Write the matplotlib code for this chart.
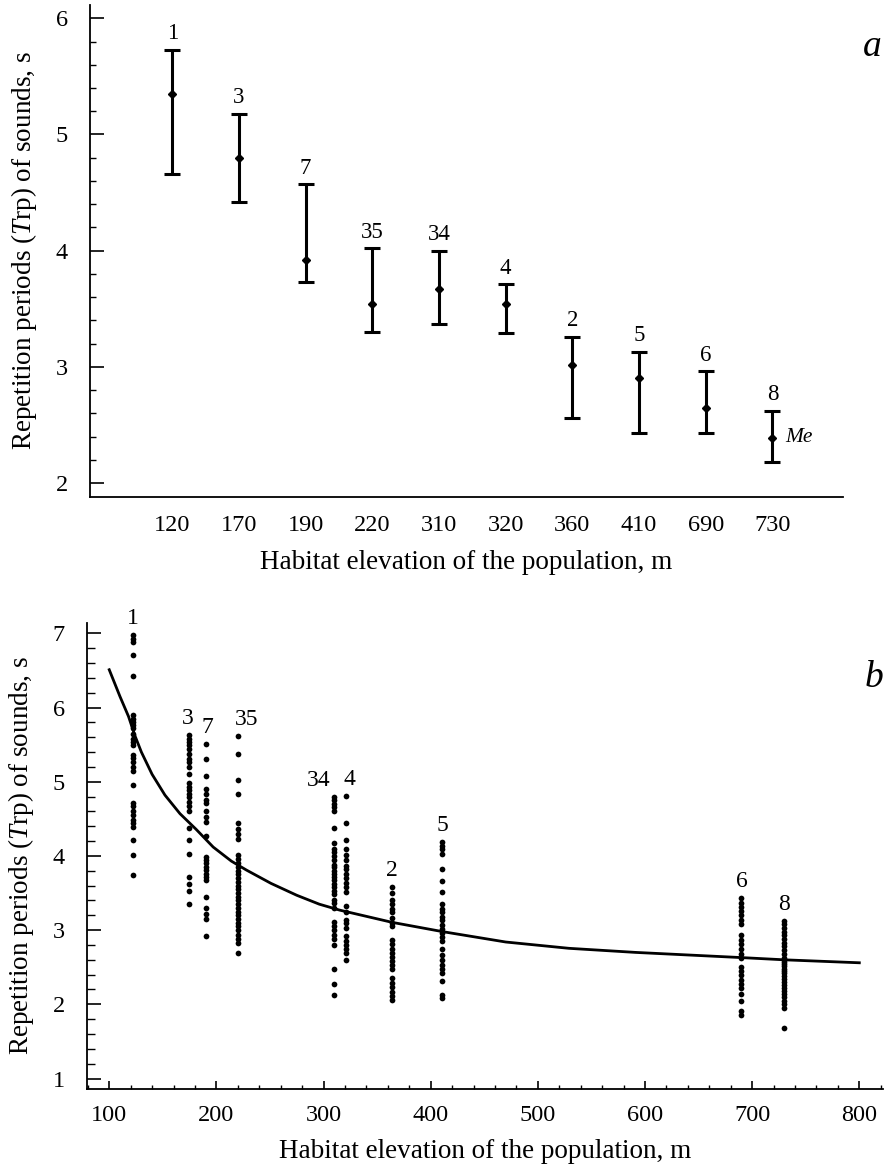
import matplotlib
matplotlib.use("Agg")
import matplotlib.pyplot as plt
from matplotlib.ticker import MultipleLocator

plt.rcParams['font.family'] = ['Liberation Serif', 'DejaVu Serif']
plt.rcParams['mathtext.fontset'] = 'custom'
plt.rcParams['mathtext.rm'] = 'Liberation Serif'
plt.rcParams['mathtext.it'] = 'Liberation Serif:italic'

# panel a: medians with ranges per population
elev_labels = ['120', '170', '190', '220', '310', '320', '360', '410', '690', '730']
pop_ids = ['1', '3', '7', '35', '34', '4', '2', '5', '6', '8']
med = [5.35, 4.80, 3.92, 3.54, 3.67, 3.54, 3.02, 2.90, 2.65, 2.39]
low = [4.66, 4.42, 3.73, 3.30, 3.37, 3.29, 2.56, 2.43, 2.43, 2.18]
high = [5.73, 5.18, 4.57, 4.02, 4.00, 3.71, 3.26, 3.13, 2.96, 2.62]

# panel b: individual values per population
pop_x = [122, 174, 190, 220, 310, 321, 364, 411, 690, 730]
trp_1 = [6.98, 6.93, 6.89, 6.71, 6.42, 5.90, 5.85, 5.81, 5.76, 5.72, 5.65, 5.58, 5.54, 5.49, 5.36,
         5.32, 5.27, 5.20, 5.15, 4.96, 4.72, 4.67, 4.61, 4.55, 4.49, 4.44, 4.39, 4.22, 4.01, 3.74]
trp_3 = [5.63, 5.58, 5.54, 5.49, 5.44, 5.38, 5.30, 5.26, 5.20, 5.11, 4.98, 4.93, 4.89, 4.84, 4.79,
         4.73, 4.67, 4.60, 4.37, 4.21, 4.03, 3.72, 3.62, 3.53, 3.35]
trp_7 = [5.51, 5.30, 5.08, 4.90, 4.84, 4.75, 4.71, 4.60, 4.53, 4.46, 4.27, 3.99, 3.94, 3.90, 3.85,
         3.81, 3.76, 3.72, 3.68, 3.45, 3.30, 3.22, 3.15, 2.92]
trp_35 = [5.62, 5.38, 5.03, 4.83, 4.45, 4.36, 4.30, 4.23, 4.01, 3.96, 3.90, 3.85, 3.80, 3.75, 3.70,
          3.65, 3.60, 3.55, 3.50, 3.45, 3.40, 3.35, 3.30, 3.25, 3.20, 3.15, 3.10, 3.05, 3.00, 2.93,
          2.88, 2.83, 2.69]
trp_34 = [4.79, 4.75, 4.70, 4.66, 4.60, 4.38, 4.18, 4.10, 4.05, 4.00, 3.94, 3.88, 3.85, 3.80, 3.76,
          3.72, 3.67, 3.62, 3.58, 3.53, 3.49, 3.40, 3.36, 3.30, 3.11, 3.05, 3.00, 2.93, 2.88, 2.80,
          2.48, 2.28, 2.12]
trp_4 = [4.81, 4.44, 4.21, 4.09, 4.01, 3.94, 3.87, 3.82, 3.76, 3.70, 3.64, 3.58, 3.52, 3.32, 3.24,
         3.14, 3.09, 3.03, 2.92, 2.85, 2.80, 2.74, 2.69, 2.60]
trp_2 = [3.58, 3.50, 3.40, 3.35, 3.29, 3.24, 3.16, 3.09, 3.05, 2.87, 2.81, 2.75, 2.69, 2.64, 2.59,
         2.53, 2.47, 2.35, 2.29, 2.24, 2.17, 2.11, 2.06]
trp_5 = [4.19, 4.14, 4.09, 4.03, 3.83, 3.66, 3.52, 3.35, 3.29, 3.24, 3.18, 3.13, 3.07, 3.02, 2.96,
         2.91, 2.85, 2.74, 2.67, 2.60, 2.53, 2.47, 2.42, 2.31, 2.13, 2.08]
trp_6 = [3.43, 3.37, 3.31, 3.26, 3.20, 3.14, 3.08, 2.94, 2.87, 2.81, 2.75, 2.68, 2.62, 2.50, 2.45,
         2.39, 2.33, 2.28, 2.22, 2.14, 2.04, 1.91, 1.85]
trp_8 = [3.12, 3.08, 3.03, 2.98, 2.93, 2.88, 2.83, 2.78, 2.73, 2.68, 2.63, 2.60, 2.57, 2.54, 2.51,
         2.48, 2.45, 2.42, 2.38, 2.34, 2.30, 2.26, 2.22, 2.18, 2.14, 2.10, 2.05, 2.00, 1.95, 1.68]
trp_all = [trp_1, trp_3, trp_7, trp_35, trp_34, trp_4, trp_2, trp_5, trp_6, trp_8]

# fitted curve
fit_x = [100, 110, 118, 124, 130, 140, 152, 166, 181, 197, 214, 228, 251, 275, 296, 315, 364, 411,
         470, 529, 591, 690, 730, 800]
fit_y = [6.51, 6.15, 5.88, 5.62, 5.40, 5.10, 4.82, 4.57, 4.36, 4.12, 3.93, 3.81, 3.63, 3.47, 3.35,
         3.27, 3.105, 2.98, 2.84, 2.755, 2.70, 2.63, 2.60, 2.56]

ylab = r'Repetition periods ($\mathit{T}$rp) of sounds, s'
xlab = 'Habitat elevation of the population, m'

fig = plt.figure(figsize=(8.86, 11.68), dpi=100)

# ---- panel a ----
ax = fig.add_axes([0.1016, 0.5745, 0.850, 0.4212])
pos = list(range(len(med)))
yerr = [[m - l for m, l in zip(med, low)], [h - m for m, h in zip(med, high)]]
ax.errorbar(pos, med, yerr=yerr, fmt='D', color='black', ms=4.5, elinewidth=2.2,
            capsize=6, capthick=2.2)
for p, h, lab in zip(pos, high, pop_ids):
    ax.text(p, h + 0.05, lab, ha='center', va='bottom', fontsize=16.5)
ax.text(pos[-1] + 0.19, med[-1], 'Me', style='italic', ha='left', va='center', fontsize=15.5)
ax.set_xlim(-1.234, 10.06)
ax.set_ylim(1.88, 6.114)
ax.set_xticks(pos)
ax.set_xticklabels(elev_labels)
ax.tick_params(axis='x', length=0, pad=13, labelsize=17.5)
ax.yaxis.set_major_locator(MultipleLocator(1))
ax.yaxis.set_minor_locator(MultipleLocator(0.2))
ax.tick_params(axis='y', which='major', direction='in', length=10, width=1.2, labelsize=17.5, pad=16)
ax.tick_params(axis='y', which='minor', direction='in', length=4.5, width=1.0)
for s in ['top', 'right']:
    ax.spines[s].set_visible(False)
for s in ['left', 'bottom']:
    ax.spines[s].set_linewidth(1.3)
ax.set_ylabel(ylab, fontsize=19.5, labelpad=12)
ax.set_xlabel(xlab, fontsize=19.5, labelpad=10)
fig.text(0.985, 0.96, 'a', style='italic', fontsize=27, ha='center', va='center')

# ---- panel b ----
bx = fig.add_axes([0.0985, 0.0674, 0.898, 0.3996])
for x, vals in zip(pop_x, trp_all):
    bx.scatter([x] * len(vals), vals, s=17, color='black', linewidths=0, zorder=3)
bx.plot(fit_x, fit_y, color='black', lw=2.0, zorder=2)
label_dx = {'3': -1, '7': 2, '35': 8, '34': -15, '4': 3}
for x, vals, lab in zip(pop_x, trp_all, pop_ids):
    bx.text(x + label_dx.get(lab, 0), max(vals) + 0.08, lab, ha='center', va='bottom', fontsize=17)
bx.set_xlim(79.5, 822)
bx.set_ylim(0.855, 7.146)
bx.xaxis.set_major_locator(MultipleLocator(100))
bx.xaxis.set_minor_locator(MultipleLocator(20))
bx.yaxis.set_major_locator(MultipleLocator(1))
bx.yaxis.set_minor_locator(MultipleLocator(0.2))
bx.tick_params(which='major', direction='in', length=10, width=1.2, labelsize=17.5)
bx.tick_params(axis='x', which='major', length=6, pad=11)
bx.tick_params(axis='y', which='major', pad=16)
bx.tick_params(axis='y', which='minor', direction='in', length=5.5, width=1.0)
bx.tick_params(axis='x', which='minor', direction='in', length=3, width=1.0)
for s in ['top', 'right']:
    bx.spines[s].set_visible(False)
for s in ['left', 'bottom']:
    bx.spines[s].set_linewidth(1.3)
bx.set_ylabel(ylab, fontsize=19.5, labelpad=12)
bx.set_xlabel(xlab, fontsize=19.5, labelpad=10)
fig.text(0.987, 0.42, 'b', style='italic', fontsize=27, ha='center', va='center')

fig.savefig('out.png', dpi=100)
